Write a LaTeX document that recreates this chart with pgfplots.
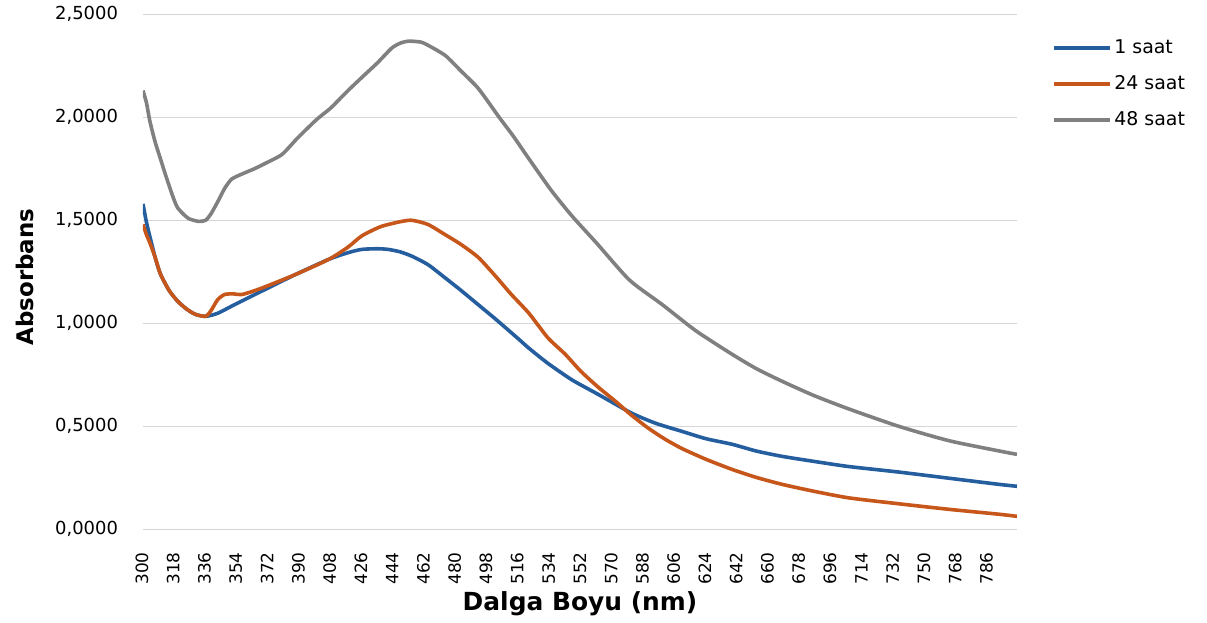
\documentclass[border=0pt]{standalone}
\usepackage{fontspec}
\setmainfont{DejaVu Sans}
\usepackage{pgfplots}
\pgfplotsset{compat=1.18}

\definecolor{saat1}{RGB}{37,94,159}
\definecolor{saat24}{RGB}{198,86,26}
\definecolor{saat48}{RGB}{128,128,128}

\begin{document}
\begin{tikzpicture}
\begin{axis}[
  scale only axis,
  width=437bp, height=257.5bp,
  xmin=300, xmax=803, ymin=0, ymax=2.5,
  xtick={300,318,...,786},
  ytick={0,0.5,1,1.5,2,2.5},
  ymajorgrids,
  grid style={draw=black!16, line width=0.7bp},
  axis line style={draw=none},
  major tick length=0pt,
  /pgf/number format/assume math mode=true,
  xticklabel style={font=\fontsize{8.5}{9}\selectfont, xshift=-0.5bp, yshift=-8bp, rotate=90, anchor=east,
    /pgf/number format/1000 sep={}},
  yticklabel style={font=\fontsize{9}{10}\selectfont, xshift=-9bp,
    /pgf/number format/.cd, fixed, fixed zerofill, precision=4, use comma},
  xlabel={\textbf{Dalga Boyu (nm)}},
  ylabel={\textbf{Absorbans}},
  x label style={font=\fontsize{12.5}{14}\selectfont, at={(axis description cs:0.5,-0.1437)}, anchor=center},
  y label style={font=\fontsize{11.5}{13}\selectfont, at={(axis description cs:-0.135,0.49)}, anchor=center, rotate=0},
  legend style={at={(axis description cs:1.04,0.955)}, anchor=north west,
    draw=none, fill=none, font=\fontsize{9.5}{11}\selectfont,
    row sep=7.5bp, inner sep=0pt, nodes={inner sep=1bp}},
  legend cell align=left,
  legend image code/.code={\draw[#1, line width=2bp] (0bp,0bp) -- (28bp,0bp);},
  every axis plot/.append style={line width=1.8bp, line join=round},
]
\coordinate (sw) at (rel axis cs:0,0);

\addplot[saat1, smooth, tension=0.4] coordinates {
  (300,1.58) (302,1.49) (304,1.42) (307,1.32) (310,1.24) (315,1.16) (320,1.107)
  (325,1.07) (330,1.044) (336,1.034) (343,1.049) (353,1.092) (368,1.155)
  (388,1.238) (407,1.311) (418,1.343) (426,1.359) (435,1.362) (441,1.359)
  (448,1.347) (455,1.325) (464,1.285) (474,1.22) (483,1.16) (493,1.09)
  (503,1.02) (516,0.925) (522,0.88) (533,0.806) (547,0.725) (562,0.655)
  (581,0.565) (595,0.515) (610,0.476) (624,0.44) (639,0.413) (653,0.38)
  (668,0.354) (686,0.33) (706,0.305) (735,0.278) (764,0.248) (793,0.218) (803,0.209)
};
\addlegendentry{1 saat}

\addplot[saat24, smooth, tension=0.4] coordinates {
  (300,1.48) (302,1.43) (304,1.39) (307,1.32) (310,1.24) (315,1.16) (320,1.107)
  (325,1.07) (330,1.044) (336,1.034) (339,1.06) (343,1.115) (347,1.14)
  (352,1.143) (357,1.14) (368,1.17) (388,1.238) (407,1.311) (418,1.37)
  (426,1.425) (437,1.47) (449,1.495) (455,1.50) (464,1.48) (474,1.43)
  (483,1.383) (493,1.32) (503,1.228) (512,1.14) (522,1.05) (533,0.93)
  (543,0.85) (552,0.767) (562,0.69) (572,0.621) (581,0.555) (591,0.49)
  (600,0.44) (610,0.393) (624,0.34) (639,0.291) (653,0.252) (668,0.218)
  (686,0.185) (706,0.153) (735,0.124) (764,0.097) (793,0.073) (803,0.063)
};
\addlegendentry{24 saat}

\addplot[saat48, smooth, tension=0.4] coordinates {
  (300,2.13) (302,2.07) (304,1.98) (307,1.88) (310,1.80) (313,1.72) (317,1.62)
  (320,1.56) (326,1.51) (332,1.495) (336,1.50) (339,1.53) (343,1.59)
  (347,1.655) (351,1.70) (357,1.725) (364,1.75) (370,1.775) (380,1.82)
  (389,1.90) (400,1.99) (408,2.045) (418,2.13) (428,2.21) (435,2.265)
  (443,2.335) (448,2.36) (453,2.37) (460,2.365) (464,2.35) (474,2.30)
  (483,2.225) (493,2.14) (505,2.00) (513,1.91) (522,1.80) (535,1.645)
  (547,1.52) (561,1.39) (580,1.21) (599,1.09) (618,0.965) (639,0.85)
  (653,0.78) (668,0.718) (686,0.65) (706,0.585) (735,0.50) (764,0.43)
  (793,0.38) (803,0.364)
};
\addlegendentry{48 saat}
\end{axis}
\path (sw) ++(-71.5bp,-46.5bp) rectangle ++(603.5bp,310.5bp);
\end{tikzpicture}
\end{document}
